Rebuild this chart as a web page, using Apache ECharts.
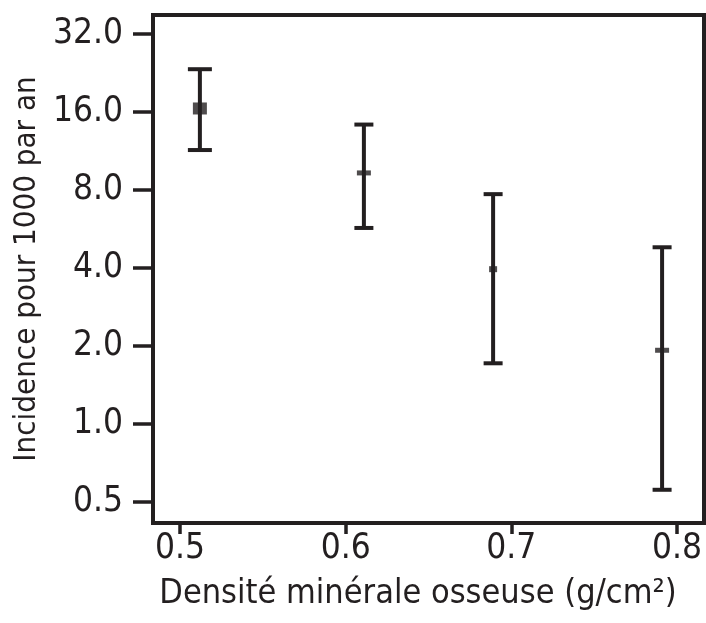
<!DOCTYPE html>
<html lang="fr">
<head>
    <meta charset="UTF-8">
    <title>Incidence selon la densité minérale osseuse</title>
    <script src="https://cdn.jsdelivr.net/npm/echarts@6/dist/echarts.min.js"></script>
    <style>
        body {
            margin: 0;
            padding: 0;
            background-color: #ffffff;
        }
        #chart {
            width: 706px;
            height: 623px;
        }
    </style>
</head>
<body>
<div id="chart"></div>

<script>
    // données
    const densite = [0.512, 0.611, 0.689, 0.791];
    const incidence = [16.5, 9.3, 3.95, 1.92];
    const borneHaute = [23.4, 14.3, 7.7, 4.8];
    const borneBasse = [11.4, 5.7, 1.71, 0.555];
    const ticksX = [0.5, 0.6, 0.7, 0.8];
    const ticksY = [0.5, 1, 2, 4, 8, 16, 32];

    const ink = '#231f20';
    const police = '"DejaVu Sans Condensed", "Liberation Sans Narrow", sans-serif';
    const largeurCapuchon = [24, 19, 19, 19];
    const tailleMarqueur = [[14, 12], [14, 5], [8, 6], [14, 5]];

    const chart = echarts.init(document.getElementById('chart'));

    const barres = densite.map((x, i) => [x, borneBasse[i], borneHaute[i]]);
    const points = densite.map((x, i) => [x, incidence[i]]);

    const option = {
        animation: false,
        grid: {
            show: true,
            left: 153,
            right: 2,
            top: 15,
            bottom: 100,
            outerBoundsMode: 'none',
            containLabel: false,
            borderWidth: 4,
            borderColor: ink,
            backgroundColor: '#fff'
        },
        xAxis: {
            type: 'value',
            min: 0.4837,
            max: 0.8163,
            axisLine: { show: false },
            splitLine: { show: false },
            axisTick: {
                show: true,
                inside: false,
                length: 11,
                lineStyle: { color: ink, width: 3.5 },
                customValues: ticksX
            },
            axisLabel: {
                margin: 8,
                fontSize: 35,
                fontFamily: police,
                color: ink,
                customValues: ticksX,
                formatter: v => v.toFixed(1)
            },
            name: 'Densité minérale osseuse (g/cm²)',
            nameLocation: 'middle',
            nameGap: 54,
            nameTextStyle: {
                fontSize: 34,
                fontFamily: police,
                color: ink,
                padding: [0, 21, 0, 0]
            }
        },
        yAxis: {
            type: 'log',
            logBase: 2,
            min: 0.413,
            max: 37.9,
            axisLine: { show: false },
            splitLine: { show: false },
            axisTick: {
                show: true,
                inside: false,
                length: 20,
                lineStyle: { color: ink, width: 3.5 },
                customValues: ticksY
            },
            axisLabel: {
                margin: 30,
                fontSize: 35,
                fontFamily: police,
                color: ink,
                customValues: ticksY,
                formatter: v => Number(v).toFixed(1)
            },
            name: 'Incidence pour 1000 par an',
            nameLocation: 'middle',
            nameGap: 108,
            nameRotate: 90,
            nameTextStyle: {
                fontSize: 31,
                fontFamily: police,
                color: ink
            }
        },
        series: [
            {
                type: 'custom',
                data: barres,
                renderItem: function (params, api) {
                    const haut = api.coord([api.value(0), api.value(2)]);
                    const bas = api.coord([api.value(0), api.value(1)]);
                    const demi = largeurCapuchon[params.dataIndex] / 2;
                    const style = { stroke: ink, lineWidth: 4 };
                    return {
                        type: 'group',
                        children: [
                            { type: 'line', shape: { x1: haut[0], y1: haut[1], x2: bas[0], y2: bas[1] }, style: style },
                            { type: 'line', shape: { x1: haut[0] - demi, y1: haut[1], x2: haut[0] + demi, y2: haut[1] }, style: style },
                            { type: 'line', shape: { x1: bas[0] - demi, y1: bas[1], x2: bas[0] + demi, y2: bas[1] }, style: style }
                        ]
                    };
                }
            },
            {
                type: 'scatter',
                data: points,
                symbol: 'rect',
                symbolSize: (val, params) => tailleMarqueur[params.dataIndex],
                itemStyle: { color: ink }
            }
        ]
    };

    chart.setOption(option);
</script>
</body>
</html>
